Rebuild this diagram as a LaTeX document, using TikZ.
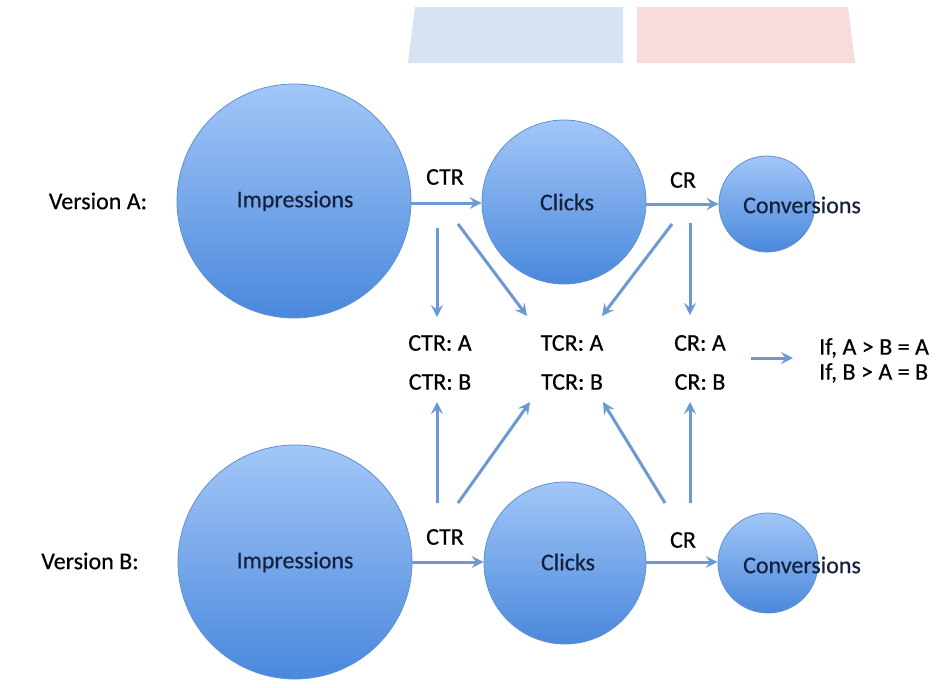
\documentclass[tikz,border=0pt]{standalone}
\usepackage{fontspec}
\setmainfont{Carlito}
\newfontface\lblfont{Carlito}[FakeBold=0.4]
\usetikzlibrary{arrows.meta,calc}
\definecolor{ctop}{HTML}{A2C7F8}
\definecolor{cbot}{HTML}{4A88DC}
\definecolor{cedge}{HTML}{6090D0}
\definecolor{arrc}{HTML}{6C99D1}
\definecolor{intext}{HTML}{15203A}
\definecolor{barblue}{HTML}{D5E3F2}
\definecolor{barpink}{HTML}{F8DCDD}
\tikzset{
  bubble/.style={circle,draw=cedge,line width=0.8pt,top color=ctop,bottom color=cbot,inner sep=0pt},
  lbl/.style={font=\lblfont\fontsize{24}{26}\selectfont,text=black,inner sep=0pt},
  intxt/.style={font=\lblfont\fontsize{24}{26}\selectfont,text=intext,inner sep=0pt},
  arr/.style={draw=arrc,line width=3pt,-{Stealth[length=12pt,width=12pt,inset=4.5pt]}},
}
\begin{document}
\begin{tikzpicture}[x=1pt,y=-1pt]
\useasboundingbox (0,0) rectangle (940,688);
\fill[white] (0,0) rectangle (940,688);
% top bars
\fill[barblue] (415,7) -- (623,7) -- (623,63) -- (408,63) -- cycle;
\fill[barpink] (637,7) -- (848,7) -- (855,63) -- (637,63) -- cycle;

% version labels
\node[lbl] (vA) at (98,201) {Version A:};
\node[lbl] (vB) at (90,561) {Version B:};

% circles row A
\node[bubble,minimum size=234pt] (impA) at (294,201) {};
\node[bubble,minimum size=164pt] (clkA) at (564,202) {};
\node[bubble,minimum size=96pt] (conA) at (767,204) {};
\node[intxt] (timpA) at (295,201) {Impressions};
\node[intxt] (tclkA) at (567,202) {Clicks};
\node[intxt] (tconA) at (802,205) {Conversions};

% circles row B
\node[bubble,minimum size=234pt] (impB) at (295,562) {};
\node[bubble,minimum size=162pt] (clkB) at (565,563) {};
\node[bubble,minimum size=100pt] (conB) at (768,563) {};
\node[intxt] (timpB) at (295,562) {Impressions};
\node[intxt] (tclkB) at (568,562) {Clicks};
\node[intxt] (tconB) at (802,565) {Conversions};

% horizontal arrows
\draw[arr] (impA.east |- 0,203) -- (clkA.west |- 0,203);
\draw[arr] (clkA.east |- 0,204) -- (conA.west |- 0,204);
\draw[arr] (impB.east |- 0,562) -- (clkB.west |- 0,562);
\draw[arr] (clkB.east |- 0,562) -- (conB.west |- 0,562);
\node[lbl] (ctrlA) at (445,177) {CTR};
\node[lbl] (crlA) at (683,180) {CR};
\node[lbl] (ctrlB) at (445,537) {CTR};
\node[lbl] (crlB) at (683,540) {CR};

% middle labels
\node[lbl] (ctrA) at (440,343) {CTR: A};
\node[lbl] (ctrB) at (440,382) {CTR: B};
\node[lbl] (tcrA) at (572,343) {TCR: A};
\node[lbl] (tcrB) at (572,382) {TCR: B};
\node[lbl] (crA) at (700,343) {CR: A};
\node[lbl] (crB) at (700,382) {CR: B};
\node[lbl,align=left,anchor=west,font=\lblfont\fontsize{24}{25}\selectfont] (rule) at (819,360.5) {If, A > B = A\\If, B > A = B};

% tails
\coordinate (a1) at (437,228);
\coordinate (a2) at (458,224);
\coordinate (a3) at (672,224);
\coordinate (a4) at (690,223);
\coordinate (b1) at (437,503);
\coordinate (b2) at (458,503);
\coordinate (b3) at (665,503);
\coordinate (b4) at (690,503);
\coordinate (cmp) at (751,358);

% arrows from row A
\draw[arr] (a1) -- ([xshift=-3pt,yshift=26pt]ctrA.center);
\draw[arr] (a2) -- ([xshift=-45pt,yshift=27pt]tcrA.center);
\draw[arr] (a3) -- ([xshift=30pt,yshift=27pt]tcrA.center);
\draw[arr] (a4) -- ([xshift=-10pt,yshift=28pt]crA.center);
% arrows from row B
\draw[arr] (b1) -- ([xshift=-3pt,yshift=-20pt]ctrB.center);
\draw[arr] (b2) -- ([xshift=-42pt,yshift=-20pt]tcrB.center);
\draw[arr] (b3) -- ([xshift=31pt,yshift=-20pt]tcrB.center);
\draw[arr] (b4) -- ([xshift=-10pt,yshift=-20pt]crB.center);
% result arrow
\draw[arr,shorten >=26pt] (cmp) -- (cmp -| rule.west);
\end{tikzpicture}
\end{document}
